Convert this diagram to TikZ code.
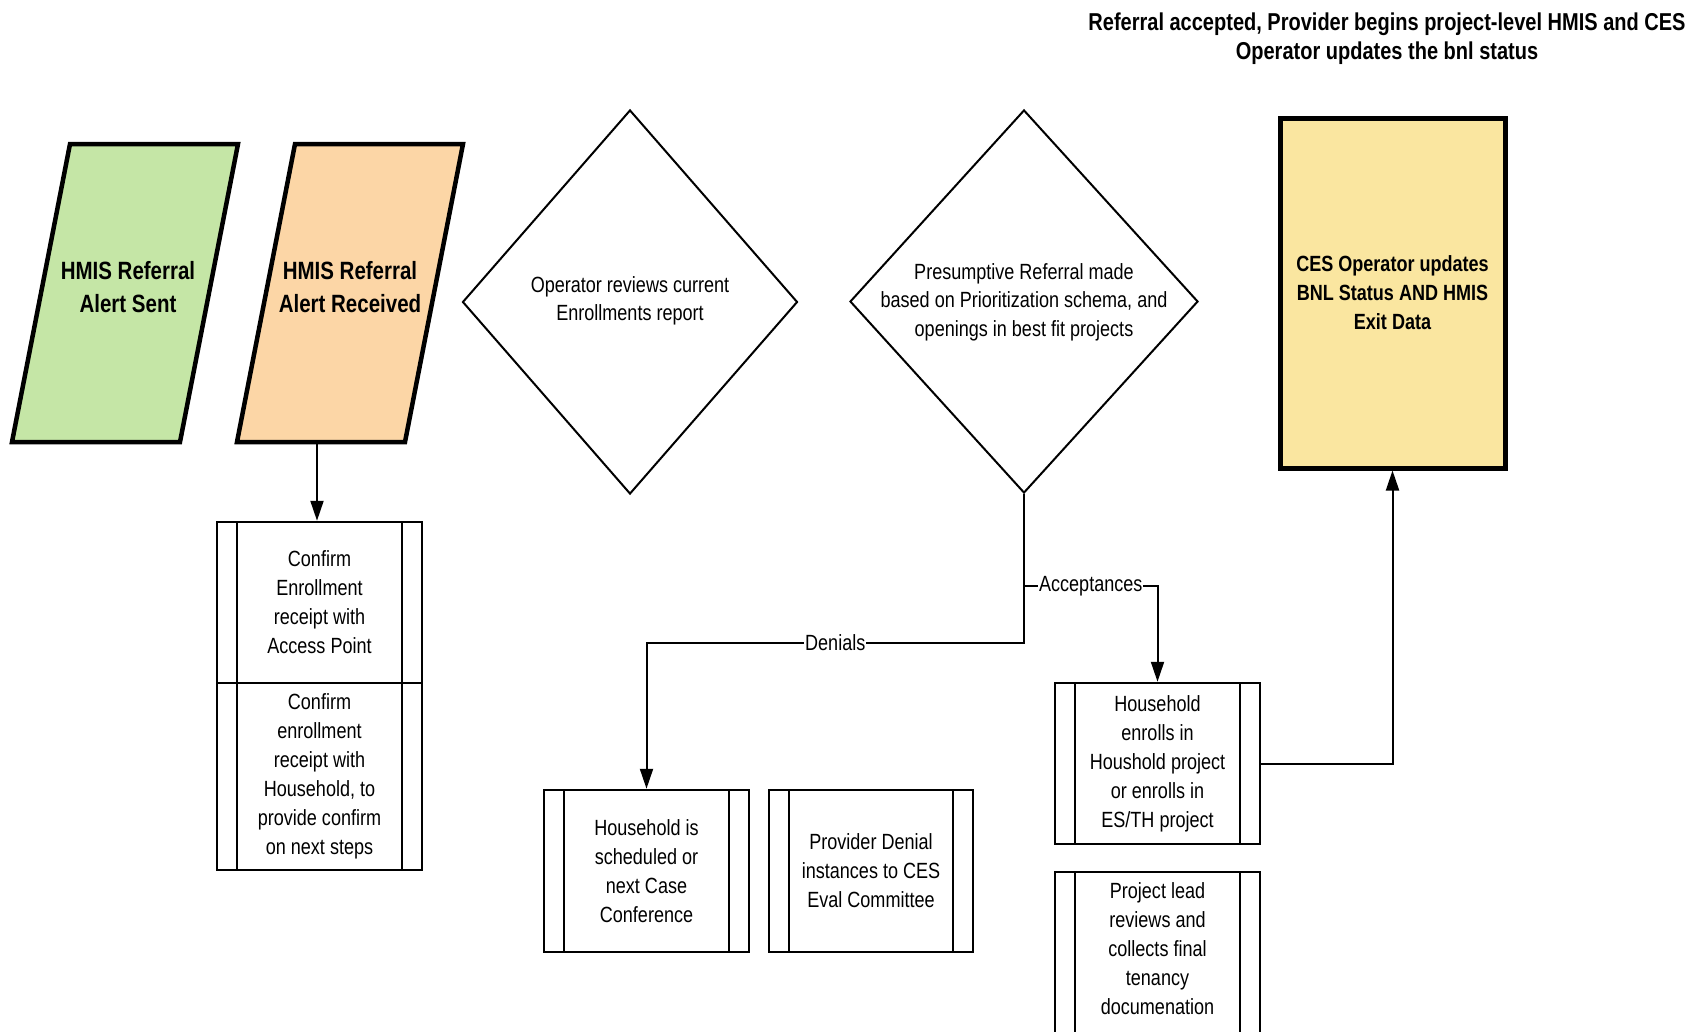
\documentclass[tikz,border=0pt]{standalone}
\usepackage{fontspec}
\setmainfont[FakeStretch=0.82]{Liberation Sans}
\usetikzlibrary{arrows.meta,shapes.geometric}
\definecolor{pgreen}{RGB}{197,230,166}
\definecolor{porange}{RGB}{252,214,166}
\definecolor{pyellow}{RGB}{250,230,160}
\begin{document}
\begin{tikzpicture}[x=1pt,y=-1pt,
  conn/.style={line width=2pt},
  arr/.style={conn,-{Triangle[length=20pt,width=13pt]}},
  para/.style={line width=4.5pt,line join=miter},
  bigbold/.style={align=center,font=\fontsize{25}{33}\selectfont\bfseries},
  dtext/.style={align=center,font=\fontsize{22}{28.5}\selectfont},
  dia/.style={draw,shape=diamond,line width=2pt,inner sep=0pt},
  lbl/.style={fill=white,inner sep=1pt,font=\fontsize{22}{26}\selectfont},
  procbox/.style={draw,line width=2.5pt,fill=white,align=center,inner sep=0pt,
    minimum width=205pt,font=\fontsize{22}{29}\selectfont,
    path picture={\draw[line width=2.5pt]
      ([xshift=20pt]path picture bounding box.north west) -- ([xshift=20pt]path picture bounding box.south west)
      ([xshift=-20pt]path picture bounding box.north east) -- ([xshift=-20pt]path picture bounding box.south east);}}
]
\useasboundingbox[fill=white] (0,0) rectangle (1699,1031);

% title
\node[align=center,font=\fontsize{24.4}{29}\selectfont\bfseries] (title) at (1387,38.5)
  {Referral accepted, Provider begins project-level HMIS and CES\\Operator updates the bnl status};

% parallelograms
\draw[para,fill=pgreen] (70,144) -- (238,144) -- (180,442) -- (12,442) -- cycle;
\node[bigbold] (sent) at (128,287) {HMIS Referral\\Alert Sent};
\draw[para,fill=porange] (295,144) -- (463,144) -- (405,442) -- (237,442) -- cycle;
\node[bigbold] (recv) at (350,287) {HMIS Referral\\Alert Received};
\coordinate (recvb) at (317,444);

% diamonds
\node[dia,minimum width=335pt,minimum height=384pt] (d1) at (630,302) {};
\node[dtext] (d1t) at (630,301) {Operator reviews current\\Enrollments report};
\node[dia,minimum width=348pt,minimum height=383pt] (d2) at (1024,301.5) {};
\node[dtext] (d2t) at (1024,302) {Presumptive Referral made\\based on Prioritization schema, and\\openings in best fit projects};

% CES box
\node[draw,line width=5pt,fill=pyellow,minimum width=225pt,minimum height=350pt,
  align=center,font=\fontsize{22}{29}\selectfont\bfseries] (ces) at (1392.5,293)
  {CES Operator updates\\BNL Status AND HMIS\\Exit Data};

% process boxes
\node[procbox,minimum height=161pt] (cb1) at (319.5,602.5)
  {Confirm\\Enrollment\\receipt with\\Access Point};
\node[procbox,minimum height=187pt] (cb2) at (319.5,776.5)
  {Confirm\\enrollment\\receipt with\\Household, to\\provide confirm\\on next steps};
\node[procbox,minimum height=162pt] (hs) at (646.5,871)
  {Household is\\scheduled or\\next Case\\Conference};
\node[procbox,minimum height=162pt,minimum width=204pt] (pd) at (871,871)
  {Provider Denial\\instances to CES\\Eval Committee};
\node[procbox,minimum height=161pt] (he) at (1157.5,763.5)
  {Household\\enrolls in\\Houshold project\\or enrolls in\\ES/TH project};
\node[procbox,minimum height=170pt] (pl) at (1157.5,957) {};
\node[align=center,font=\fontsize{22}{29}\selectfont] (plt) at (1157.5,948.5)
  {Project lead\\reviews and\\collects final\\tenancy\\documenation};

% connectors
\draw[arr] (recvb) -- (recvb |- cb1.north);
\coordinate (dj) at (d2.south |- 0,643);
\coordinate (aj) at (d2.south |- 0,586);
\draw[arr] (d2.south) -- (dj) -- node[lbl] {Denials} (dj -| hs.north) -- (hs.north);
\draw[arr] (aj) -- node[lbl] {Acceptances} (aj -| he.north) -- (he.north);
\draw[arr] (he.east) -| (ces.south);
\end{tikzpicture}
\end{document}
